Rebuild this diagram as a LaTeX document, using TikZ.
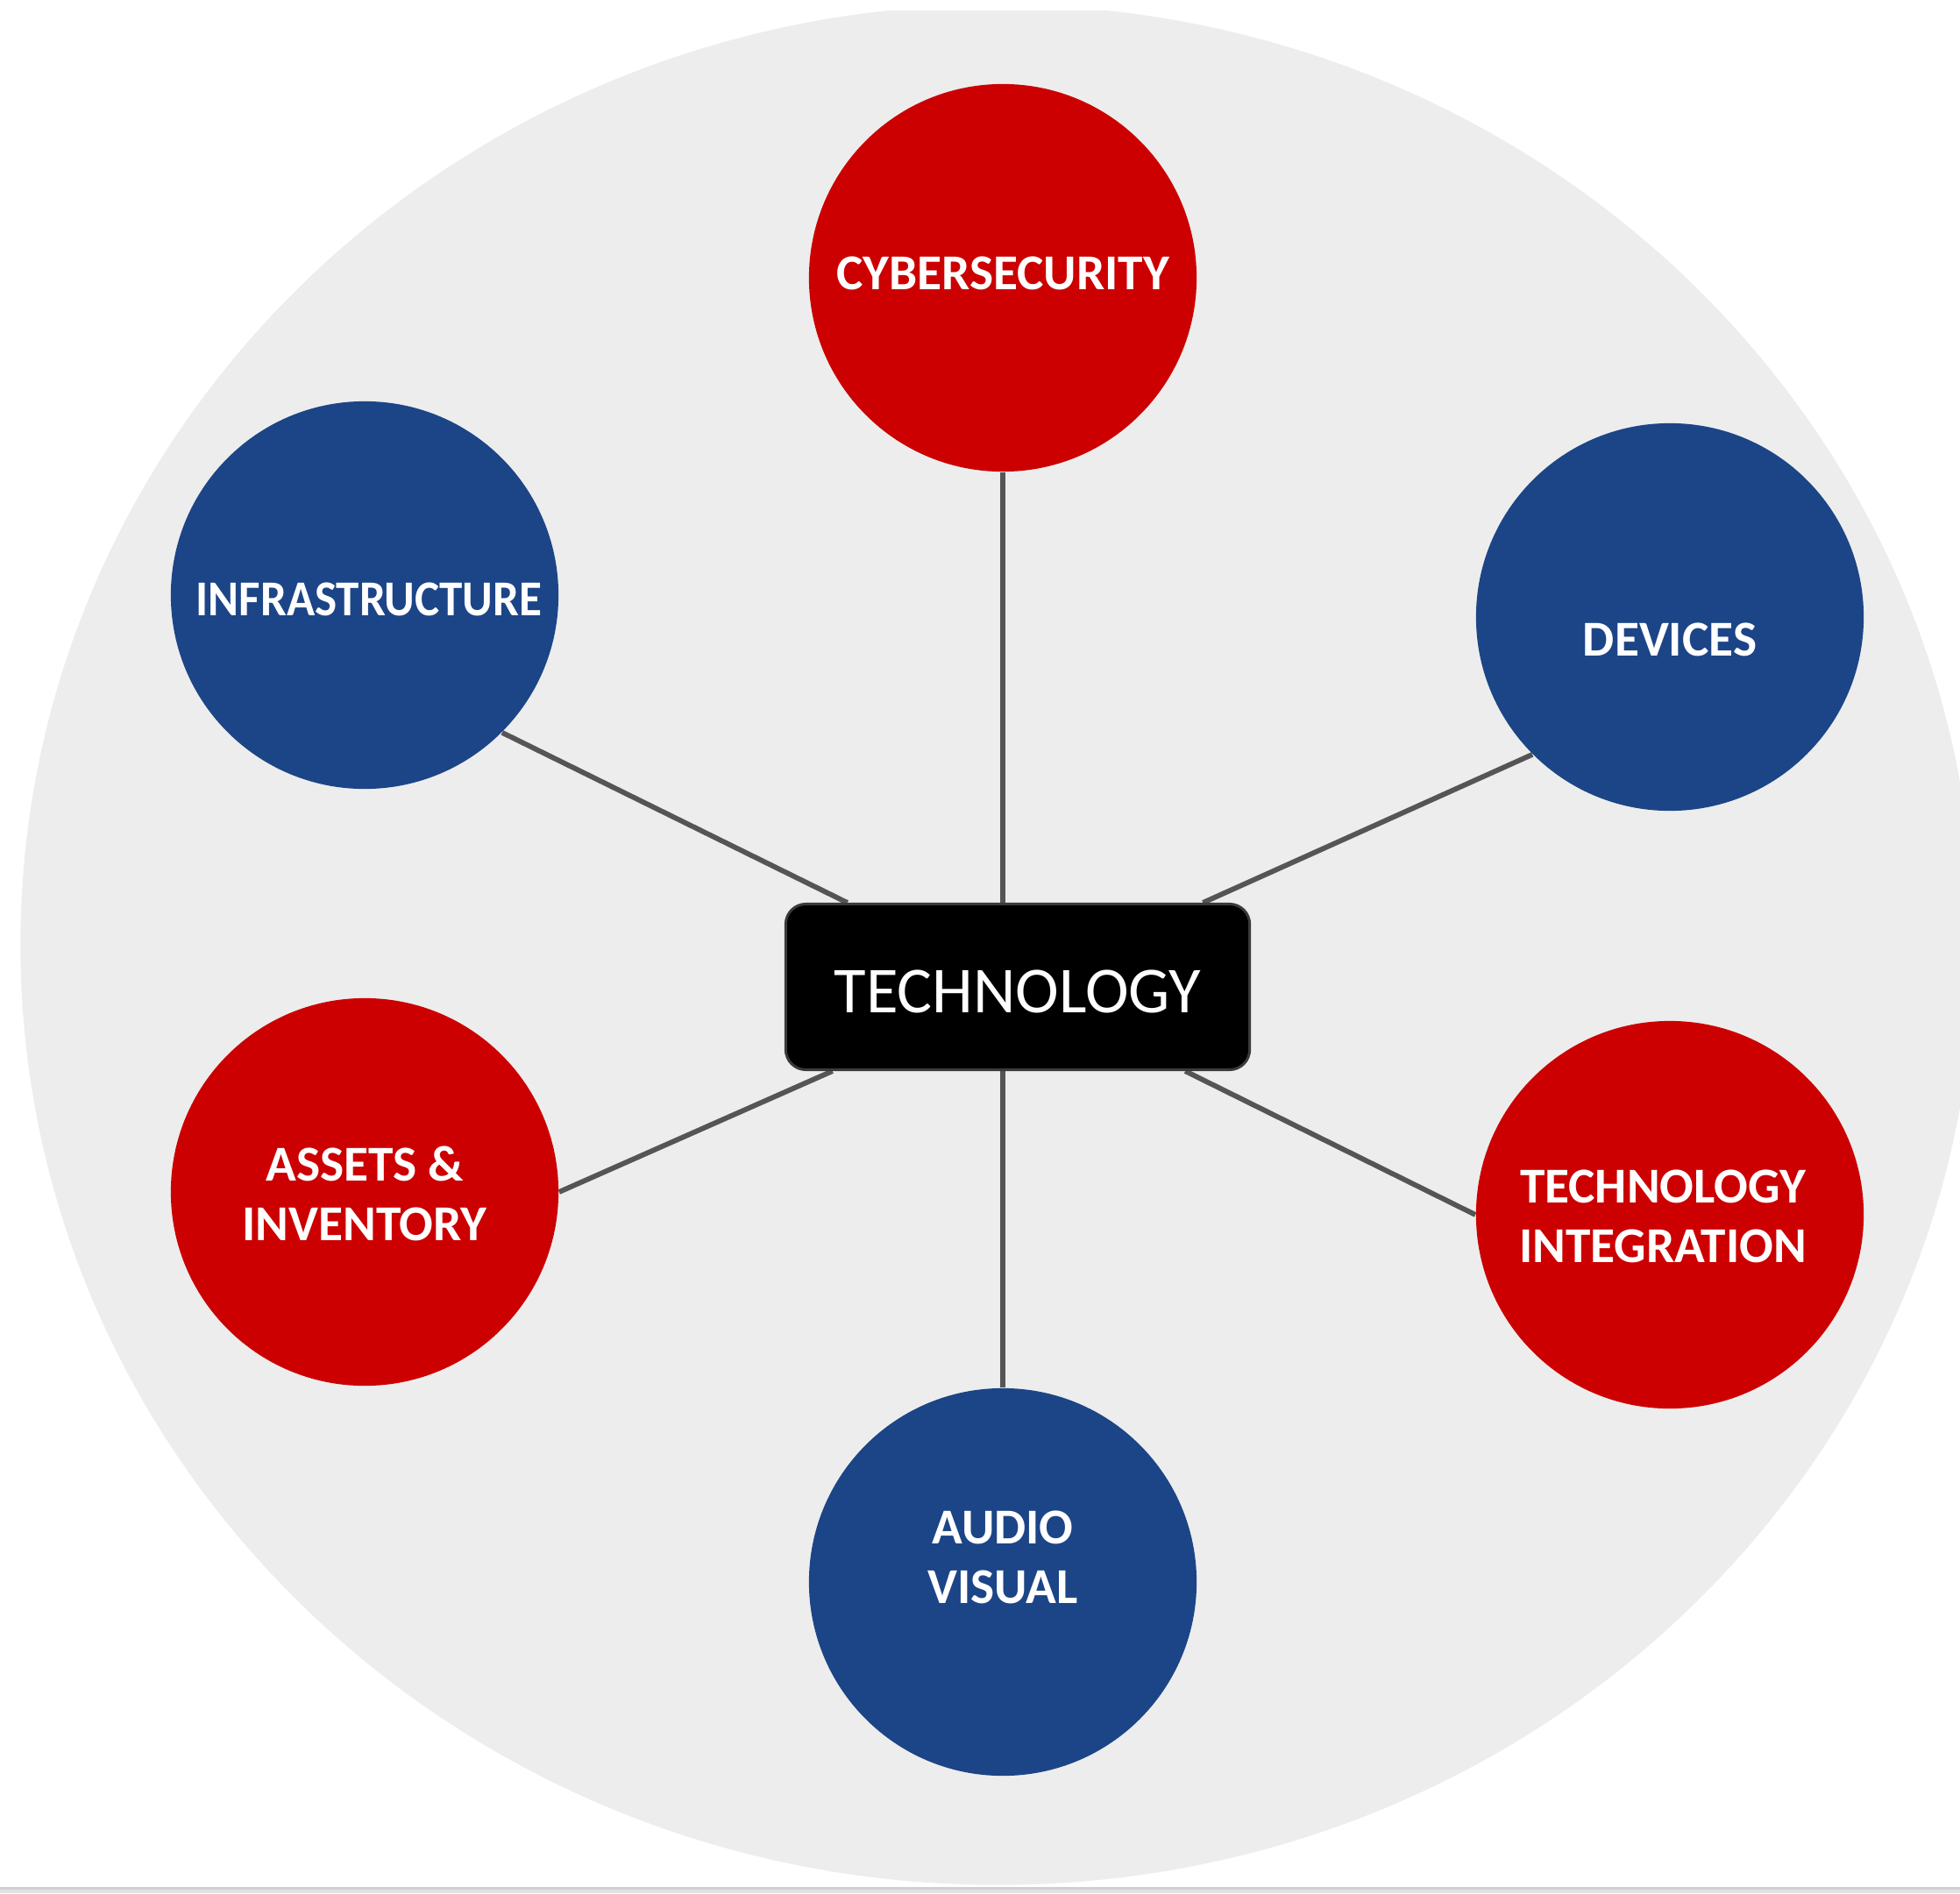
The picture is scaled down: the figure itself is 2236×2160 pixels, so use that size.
\documentclass[tikz,border=0pt]{standalone}
\usepackage{fontspec}
\setmainfont{Carlito}
\usetikzlibrary{calc,backgrounds}
\definecolor{bggrey}{HTML}{EDEDED}
\definecolor{tred}{HTML}{CC0000}
\definecolor{tblue}{HTML}{1C4587}
\definecolor{linkgrey}{HTML}{555555}
\definecolor{hubedge}{HTML}{3A3A3A}
\definecolor{stripA}{HTML}{D0D0D0}
\definecolor{stripB}{HTML}{E3E3E3}
\begin{document}
\begin{tikzpicture}[x=0.01cm,y=-0.01cm,
  bubble/.style={circle, minimum size=4.42cm, inner sep=0pt, draw=none},
  redbubble/.style={bubble, fill=tred},
  bluebubble/.style={bubble, fill=tblue},
  lbl/.style={inner sep=0pt, align=center, text=white,
    font=\bfseries\fontsize{16.3}{19.3}\selectfont},
  hub/.style={rectangle, rounded corners=0.23cm, minimum width=5.29cm,
    minimum height=1.89cm, fill=black, draw=hubedge, line width=0.03cm, inner sep=0pt},
  hubtext/.style={inner sep=0pt, text=white, font=\fontsize{21.3}{25}\selectfont},
  link/.style={draw=linkgrey, line width=0.058cm}]
\useasboundingbox (0,0) rectangle (2236,2160);
\begin{scope}[on background layer]
  \fill[white] (0,0) rectangle (2236,2160);
  \fill[stripA] (0,2153) rectangle (2236,2156);
  \fill[stripB] (0,2156) rectangle (2236,2160);
  \begin{scope}
    \clip (0,12) rectangle (2236,2153);
    \fill[bggrey] (1138,1078) ellipse [x radius=11.14cm, y radius=10.72cm];
  \end{scope}
\end{scope}

% circles
\node[redbubble]  (cyber)   at (1144,317)  {};
\node[bluebubble] (infra)   at (416,679)   {};
\node[bluebubble] (devices) at (1905,704)  {};
\node[redbubble]  (assets)  at (416,1360)  {};
\node[redbubble]  (techint) at (1905,1386) {};
\node[bluebubble] (audio)   at (1144,1805) {};

% labels
\node[lbl] (cyberT)   at (1144,312)  {CYBERSECURITY};
\node[lbl] (infraT)   at (421,684)   {\scalebox{0.926}[1]{INFRASTRUCTURE}};
\node[lbl] (devicesT) at (1905,730)  {DEVICES};
\node[lbl] (assetsT)  at (416,1362)  {ASSETS \&\\INVENTORY};
\node[lbl] (techintT) at (1897,1388) {TECHNOLOGY\\INTEGRATION};
\node[lbl] (audioT)   at (1144,1777) {AUDIO\\VISUAL};

% hub
\node[hub] (hub) at (1161,1126) {};
\node[hubtext] (hubT) at (1161,1131) {TECHNOLOGY};

% connectors
\begin{scope}[on background layer]
  \draw[link] (cyber.south) -- ($(hub.north west)!(cyber.south)!(hub.north east)$);
  \draw[link] (infra.-45) -- ($(hub.north west)!0.135!(hub.north east)$);
  \draw[link] (devices.-135) -- ($(hub.north west)!0.897!(hub.north east)$);
  \draw[link] (assets.east) -- ($(hub.south west)!0.103!(hub.south east)$);
  \draw[link] (techint.west) -- ($(hub.south west)!0.859!(hub.south east)$);
  \draw[link] (audio.north) -- ($(hub.south west)!(audio.north)!(hub.south east)$);
\end{scope}
\end{tikzpicture}
\end{document}
